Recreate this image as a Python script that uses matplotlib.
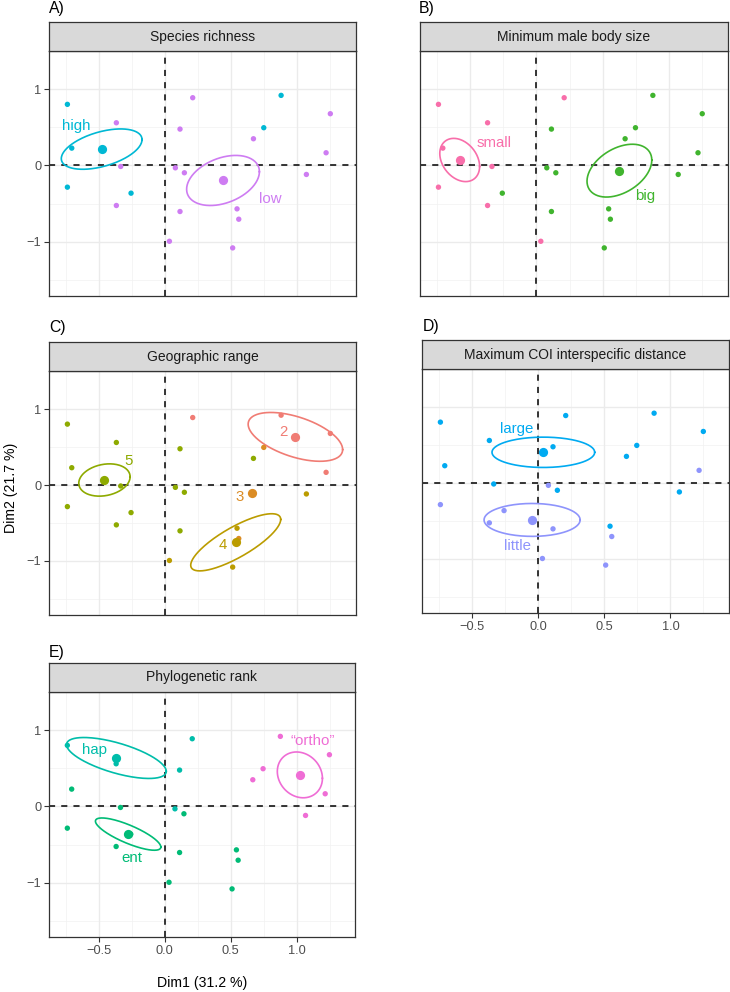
import numpy as np
import matplotlib
matplotlib.use("Agg")
import matplotlib.pyplot as plt

plt.rcParams['font.family'] = ['Liberation Sans', 'DejaVu Sans']

# ---------------- data ----------------
dim1 = [-0.738, -0.705, -0.738, -0.368, -0.335, -0.368, -0.257, 0.209, 0.113, 0.078, 0.146,
        0.113, 0.033, 0.544, 0.557, 0.511, 0.668, 0.746, 0.877, 1.249, 1.217, 1.068]
dim2 = [0.803, 0.228, -0.285, 0.561, -0.013, -0.526, -0.364, 0.890, 0.478, -0.031, -0.096,
        -0.605, -0.996, -0.570, -0.706, -1.083, 0.351, 0.496, 0.921, 0.680, 0.167, -0.118]

richness = ['high', 'high', 'high', 'low', 'low', 'low', 'high', 'low', 'low', 'low', 'low',
            'low', 'low', 'low', 'low', 'low', 'low', 'high', 'high', 'low', 'low', 'low']
body_size = ['small', 'small', 'small', 'small', 'small', 'small', 'big', 'small', 'big', 'big', 'big',
             'big', 'small', 'big', 'big', 'big', 'big', 'big', 'big', 'big', 'big', 'big']
geo_range = ['5', '5', '5', '5', '5', '5', '5', '2', '5', '5', '5',
             '5', '4', '4', '3', '4', '5', '3', '2', '2', '2', '4']
coi_dist = ['large', 'large', 'little', 'large', 'large', 'little', 'little', 'large', 'large', 'little', 'large',
            'little', 'little', 'large', 'little', 'little', 'large', 'large', 'large', 'large', 'little', 'large']
phylo_rank = ['hap', 'ent', 'ent', 'hap', 'ent', 'ent', 'ent', 'hap', 'hap', 'hap', 'ent',
              'ent', 'ent', 'ent', 'ent', 'ent', '“ortho”', '“ortho”', '“ortho”', '“ortho”', '“ortho”', '“ortho”']

# all levels (alphabetical, as in the shared colour scale)
levels = ['2', '3', '4', '5', 'big', 'ent', 'hap', 'high', 'large', 'little', 'low', '“ortho”', 'small']

# group centroids and confidence-ellipse shapes (half-range x, half-range y, correlation)
groups_A = ['high', 'low']
cent_x_A = [-0.479, 0.438]
cent_y_A = [0.215, -0.197]
ell_A = [(0.305, 0.265, 0.47), (0.275, 0.329, 0.35)]
lab_x_A = [-0.672, 0.798]
lab_y_A = [0.513, -0.443]

groups_B = ['small', 'big']
cent_x_B = [-0.578, 0.625]
cent_y_B = [0.072, -0.068]
ell_B = [(0.150, 0.284, -0.3), (0.244, 0.347, 0.4)]
lab_x_B = [-0.32, 0.821]
lab_y_B = [0.301, -0.406]

groups_C = ['2', '3', '4', '5']
cent_x_C = [0.985, 0.655, 0.534, -0.458]
cent_y_C = [0.635, -0.100, -0.756, 0.066]
ell_C = [(0.357, 0.322, -0.52), None, (0.34, 0.377, 0.8), (0.194, 0.213, 0.2)]
lab_x_C = [0.894, 0.567, 0.433, -0.277]
lab_y_C = [0.705, -0.158, -0.786, 0.311]

groups_D = ['large', 'little']
cent_x_D = [0.040, -0.045]
cent_y_D = [0.405, -0.487]
ell_D = [(0.388, 0.20, 0.0), (0.363, 0.217, 0.0)]
lab_x_D = [-0.161, -0.156]
lab_y_D = [0.719, -0.833]

groups_E = ['hap', 'ent', '“ortho”']
cent_x_E = [-0.366, -0.277, 1.025]
cent_y_E = [0.637, -0.363, 0.415]
ell_E = [(0.378, 0.269, -0.65), (0.248, 0.212, -0.8), (0.171, 0.301, -0.15)]
lab_x_E = [-0.529, -0.252, 1.121]
lab_y_E = [0.742, -0.677, 0.856]

x_ticks = [-0.5, 0.0, 0.5, 1.0]
x_ticklabels = ['−0.5', '0.0', '0.5', '1.0']
y_ticks = [-1, 0, 1]
y_ticklabels = ['−1', '0', '1']


# ---------------- colours (hue palette, slightly muted like the reference) ----------------
def hcl_hex(h, c=88.0, l=65.0):
    hr = np.deg2rad(h)
    U, V = c * np.cos(hr), c * np.sin(hr)
    Xn, Yn, Zn = 95.047, 100.0, 108.883
    den = Xn + 15 * Yn + 3 * Zn
    un, vn = 4 * Xn / den, 9 * Yn / den
    Y = Yn * ((l + 16) / 116) ** 3
    u = U / (13 * l) + un
    v = V / (13 * l) + vn
    X = Y * 9 * u / (4 * v)
    Z = Y * (12 - 3 * u - 20 * v) / (4 * v)
    X, Y, Z = X / 100, Y / 100, Z / 100
    r = 3.240479 * X - 1.537150 * Y - 0.498535 * Z
    g = -0.969256 * X + 1.875992 * Y + 0.041556 * Z
    b = 0.055648 * X - 0.204043 * Y + 1.057311 * Z
    out = []
    for ch in (r, g, b):
        ch = min(max(ch, 0), 1)
        ch = 12.92 * ch if ch <= 0.0031308 else 1.055 * ch ** (1 / 2.4) - 0.055
        out.append(min(max(ch, 0), 1))
    return tuple(out)


n = len(levels)
colors = {lev: hcl_hex(15 + i * 360.0 / n) for i, lev in enumerate(levels)}

# ---------------- layout ----------------
W, H = 730, 992
fig = plt.figure(figsize=(W / 100, H / 100), dpi=100)

XLIM = (-0.877, 1.443)
YLIM = (-1.715, 1.504)
STRIP_H = 29


def add_axes_px(left, top, right, bottom):
    return fig.add_axes([left / W, 1 - bottom / H, (right - left) / W, (bottom - top) / H])


def panel(box, letter, letter_xy, title, groups, cx, cy, ells, lx, ly, assign,
          show_x=False, show_y=False):
    left, top, right, bottom = box
    ax = add_axes_px(left, top, right, bottom)
    ax.set_xlim(XLIM)
    ax.set_ylim(YLIM)
    ax.set_facecolor('white')
    # grid
    for v in [-0.75, -0.25, 0.25, 0.75, 1.25]:
        ax.axvline(v, color='#F2F2F2', lw=0.55, zorder=0)
    for v in [-1.5, -0.5, 0.5, 1.5]:
        ax.axhline(v, color='#F2F2F2', lw=0.55, zorder=0)
    for v in x_ticks:
        ax.axvline(v, color='#EBEBEB', lw=1.0, zorder=0)
    for v in y_ticks:
        ax.axhline(v, color='#EBEBEB', lw=1.0, zorder=0)
    ax.axhline(0, color='black', lw=1.1, ls=(0, (4, 4)), zorder=1)
    ax.axvline(0, color='black', lw=1.1, ls=(0, (4, 4)), zorder=1)
    for s in ax.spines.values():
        s.set_color('#333333')
        s.set_linewidth(0.9)
    # individuals
    pc = [colors[g] for g in assign]
    ax.scatter(dim1, dim2, s=15, c=pc, linewidths=0, zorder=3)
    # ellipses, centroids, labels
    t = np.linspace(0, 2 * np.pi, 200)
    for g, x0, y0, e, tx, ty in zip(groups, cx, cy, ells, lx, ly):
        col = colors[g]
        if e is not None:
            hx, hy, r = e
            ex = x0 + hx * np.cos(t)
            ey = y0 + hy * (r * np.cos(t) + np.sqrt(1 - r * r) * np.sin(t))
            ax.plot(ex, ey, color=col, lw=1.2, zorder=2)
        ax.scatter([x0], [y0], s=44, color=col, linewidths=0, zorder=4)
        ax.text(tx, ty, g, color=col, fontsize=10.8, ha='center', va='center', zorder=5)
    ax.set_xticks(x_ticks)
    ax.set_yticks(y_ticks)
    if show_x:
        ax.set_xticklabels(x_ticklabels)
        ax.tick_params(axis='x', length=3.5, width=0.8, color='#333333', labelcolor='#4D4D4D',
                       labelsize=9.2, pad=2)
    else:
        ax.tick_params(axis='x', length=0, labelbottom=False)
    if show_y:
        ax.set_yticklabels(y_ticklabels)
        ax.tick_params(axis='y', length=3.5, width=0.8, color='#333333', labelcolor='#4D4D4D',
                       labelsize=9.2, pad=2)
    else:
        ax.tick_params(axis='y', length=0, labelleft=False)
    # strip
    sax = add_axes_px(left, top - STRIP_H, right, top)
    sax.set_facecolor('#D9D9D9')
    sax.set_xticks([])
    sax.set_yticks([])
    for s in sax.spines.values():
        s.set_color('#333333')
        s.set_linewidth(0.9)
    sax.text(0.5, 0.5, title, transform=sax.transAxes, ha='center', va='center',
             fontsize=10, color='#1A1A1A')
    fig.text(letter_xy[0] / W, 1 - letter_xy[1] / H, letter, fontsize=11.3, ha='left', va='center')
    return ax


panel((49, 51, 356, 296), 'A)', (49, 9), 'Species richness', groups_A, cent_x_A, cent_y_A,
      ell_A, lab_x_A, lab_y_A, richness, show_y=True)
panel((420, 51, 728, 296), 'B)', (419, 9), 'Minimum male body size', groups_B, cent_x_B, cent_y_B,
      ell_B, lab_x_B, lab_y_B, body_size)
panel((49, 371, 356, 615), 'C)', (49, 328), 'Geographic range', groups_C, cent_x_C, cent_y_C,
      ell_C, lab_x_C, lab_y_C, geo_range, show_y=True)
panel((422, 369, 729, 613), 'D)', (423, 327), 'Maximum COI interspecific distance', groups_D,
      cent_x_D, cent_y_D, ell_D, lab_x_D, lab_y_D, coi_dist, show_x=True)
panel((49, 692, 355, 937), 'E)', (49, 652), 'Phylogenetic rank', groups_E, cent_x_E, cent_y_E,
      ell_E, lab_x_E, lab_y_E, phylo_rank, show_x=True, show_y=True)

fig.text(202 / W, 1 - 983 / H, 'Dim1 (31.2 %)', fontsize=10.2, ha='center', va='center')
fig.text(11 / W, 1 - 488 / H, 'Dim2 (21.7 %)', fontsize=10.2, ha='center', va='center', rotation=90)

fig.savefig('out.png', dpi=100)
